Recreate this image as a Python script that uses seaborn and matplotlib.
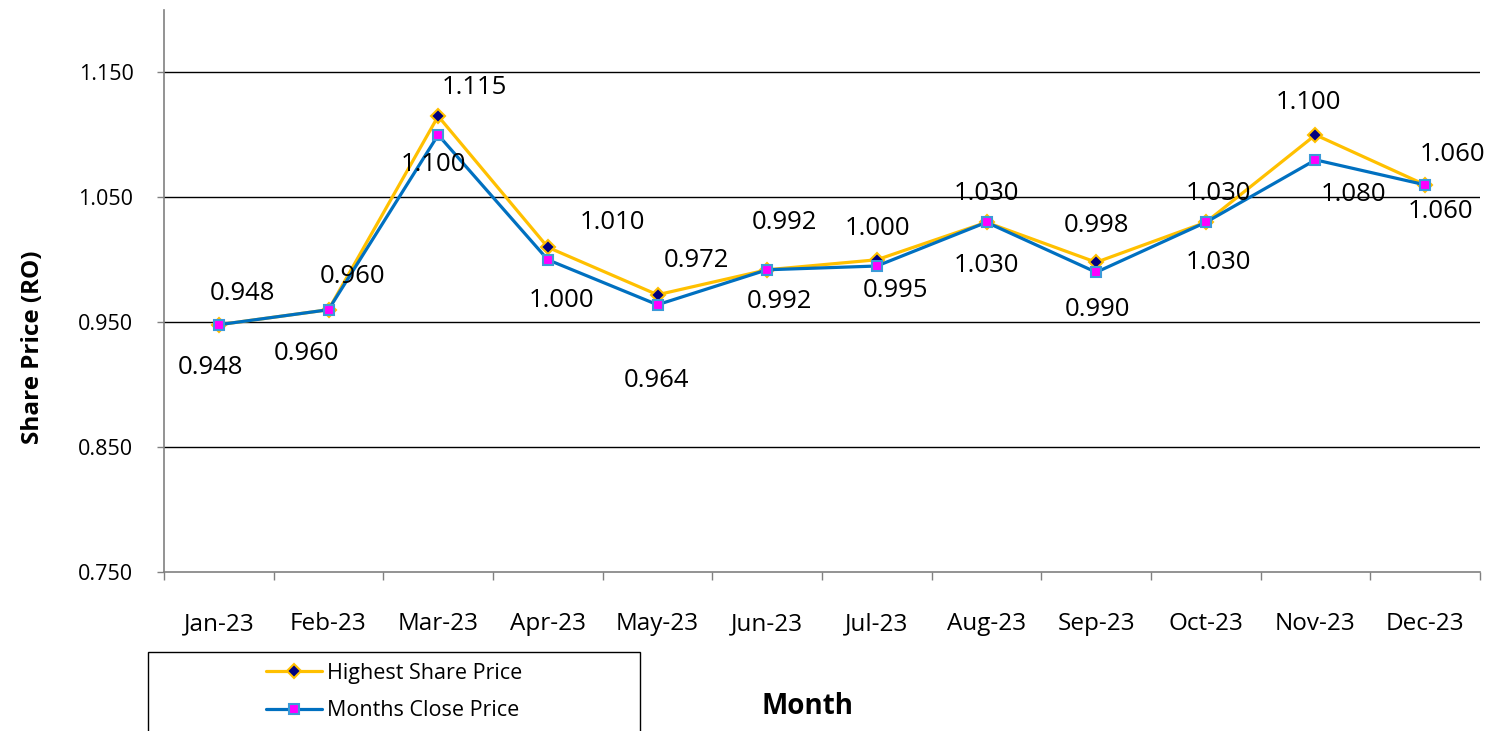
import matplotlib
matplotlib.use("Agg")
import matplotlib.pyplot as plt
import seaborn as sns
import pandas as pd
from matplotlib.patches import Rectangle
from matplotlib.lines import Line2D

months = ["Jan-23", "Feb-23", "Mar-23", "Apr-23", "May-23", "Jun-23",
          "Jul-23", "Aug-23", "Sep-23", "Oct-23", "Nov-23", "Dec-23"]
highest = [0.948, 0.960, 1.115, 1.010, 0.972, 0.992, 1.000, 1.030, 0.998, 1.030, 1.100, 1.060]
close = [0.948, 0.960, 1.100, 1.000, 0.964, 0.992, 0.995, 1.030, 0.990, 1.030, 1.080, 1.060]
y_ticks = [0.750, 0.850, 0.950, 1.050, 1.150]

# label offsets in pixels (dx, dy with y downwards)
high_off = [(24, -31), (24, -33), (36, -29), (65, -25), (39, -34), (17, -47),
            (1, -31), (0, -29), (0, -37), (13, -29), (-7, -32), (27, -30)]
close_off = [(-8, 43), (-22, 44), (-5, 30), (14, 41), (-1, 76), (12, 32),
             (19, 24), (0, 43), (1, 37), (13, 40), (38, 35), (15, 27)]

sns.set_theme(style="white")
plt.rcParams['font.family'] = ['Open Sans', 'DejaVu Sans']
plt.rcParams['text.color'] = 'black'
plt.rcParams['axes.labelcolor'] = 'black'
plt.rcParams['xtick.labelcolor'] = 'black'
plt.rcParams['ytick.labelcolor'] = 'black'

df = pd.DataFrame({"idx": range(len(months)), "month": months,
                   "Highest Share Price": highest, "Months Close Price": close})

fig = plt.figure(figsize=(14.88, 7.31), dpi=100)
ax = fig.add_axes([164/1488, 1-572/731, (1480-164)/1488, (572-10)/731])

gold = "#FFC000"
blue = "#0070C0"
sns.lineplot(data=df, x="idx", y="Highest Share Price", ax=ax, color=gold, lw=2.3,
             marker="D", markersize=7, markerfacecolor="#000080",
             markeredgecolor=gold, markeredgewidth=1.5, zorder=3)
sns.lineplot(data=df, x="idx", y="Months Close Price", ax=ax, color=blue, lw=2.3,
             marker="s", markersize=7, markerfacecolor="#FF00FF",
             markeredgecolor="#3C9AD8", markeredgewidth=1.5, zorder=4)

ax.set_xlim(-0.5, len(months) - 0.5)
ax.set_ylim(0.75, 1.2)
ax.set_yticks(y_ticks)
ax.set_yticklabels([f"{v:.3f}" for v in y_ticks], fontsize=15.5, color="black")
ax.set_xticks(range(len(months)))
ax.set_xticklabels(months, fontsize=17.5, color="black")
ax.set_xticks([i - 0.5 for i in range(len(months) + 1)], minor=True)
ax.tick_params(axis="x", which="major", bottom=True, length=0, pad=29)
ax.tick_params(axis="x", which="minor", bottom=True, length=6, width=1, color="#808080", direction="out")
ax.tick_params(axis="y", which="major", left=True, length=5, width=1, color="#808080", direction="out", pad=17)
ax.grid(False)
for v in y_ticks[1:]:
    ax.axhline(v, color="black", lw=1, zorder=1)
for s in ["top", "right"]:
    ax.spines[s].set_visible(False)
for s in ["left", "bottom"]:
    ax.spines[s].set_color("#808080")
    ax.spines[s].set_linewidth(1.2)

ax.set_xlabel("")
ax.set_ylabel("Share Price (RO)", fontsize=17.5, fontweight="bold", color="black")
ax.yaxis.set_label_coords(-0.0905, 0.40)

for i, v in enumerate(highest):
    dx, dy = high_off[i]
    ax.annotate(f"{v:.3f}", (i, v), xytext=(dx*0.72, -dy*0.72), textcoords="offset points",
                ha="center", va="center", fontsize=18.5, color="black", zorder=5)
for i, v in enumerate(close):
    dx, dy = close_off[i]
    ax.annotate(f"{v:.3f}", (i, v), xytext=(dx*0.72, -dy*0.72), textcoords="offset points",
                ha="center", va="center", fontsize=18.5, color="black", zorder=5)

fig.text(807/1488, 1-706/731, "Month", fontsize=20, fontweight="bold", ha="center", va="center",
         color="black")

fig.patches.append(Rectangle((148/1488, -0.05), (640-148)/1488, 0.05 + 1-652/731,
                             transform=fig.transFigure, fill=False, edgecolor="black", lw=1))
handles = [Line2D([], [], color=gold, lw=2.3, marker="D", markersize=7,
                  markerfacecolor="#000080", markeredgecolor=gold, markeredgewidth=1.5),
           Line2D([], [], color=blue, lw=2.3, marker="s", markersize=7,
                  markerfacecolor="#FF00FF", markeredgecolor="#3C9AD8", markeredgewidth=1.5)]
leg = fig.legend(handles, ["Highest Share Price", "Months Close Price"],
                 loc="center", bbox_to_anchor=(394/1488, 1-692/731), frameon=False,
                 fontsize=15.5, handlelength=2.6, labelspacing=0.75, handletextpad=0.2)
for t in leg.get_texts():
    t.set_color("black")

fig.savefig("out.png", dpi=100)
